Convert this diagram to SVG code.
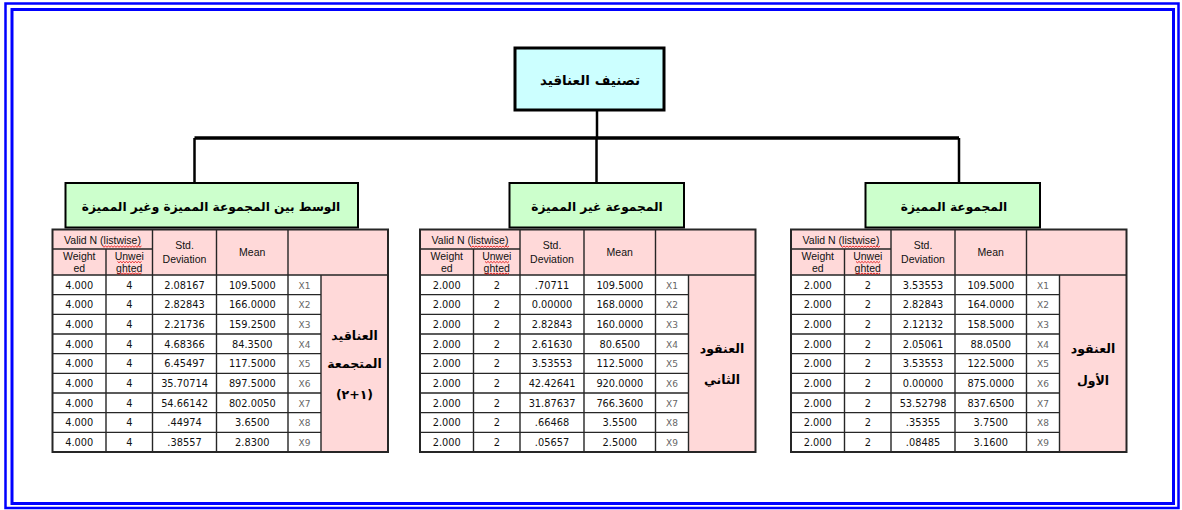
<svg xmlns="http://www.w3.org/2000/svg" xmlns:xlink="http://www.w3.org/1999/xlink" width="1182" height="510" viewBox="0 0 1182 510">
<style>
.bg{fill:#fff}
.fo{fill:none;stroke:#0000ff;stroke-width:2.5}
.fi{fill:none;stroke:#0000ff;stroke-width:3}
.root{fill:#ccffff;stroke:#000;stroke-width:3}
.grp{fill:#ccffcc;stroke:#000;stroke-width:2}
.con{fill:none;stroke:#000;stroke-width:2.5}
.hz{fill:none;stroke:#000;stroke-width:3.5}
.pk{fill:#ffd9d9}
.wh{fill:#fff}
.grid{fill:none;stroke:#262626;stroke-width:1.4}
.out{fill:none;stroke:#262626;stroke-width:2}
.t{font-family:"DejaVu Sans",Verdana,sans-serif;font-size:9.8px;fill:#111;text-anchor:middle}
.h{font-family:"Liberation Sans",Arial,sans-serif;font-size:10.5px}
.x{fill:#666;font-size:9px}
.ar{font-family:"DejaVu Sans",sans-serif;font-weight:bold;text-anchor:middle;fill:#000}
.sq{fill:none;stroke:#e00000;stroke-width:0.8}
</style>
<defs>
<path id="sq39" class="sq" d="M0,0 l1.5,1.2 1.5,-1.2 1.5,1.2 1.5,-1.2 1.5,1.2 1.5,-1.2 1.5,1.2 1.5,-1.2 1.5,1.2 1.5,-1.2 1.5,1.2 1.5,-1.2 1.5,1.2 1.5,-1.2 1.5,1.2 1.5,-1.2 1.5,1.2 1.5,-1.2 1.5,1.2 1.5,-1.2 1.5,1.2 1.5,-1.2 1.5,1.2 1.5,-1.2 1.5,1.2 1.5,-1.2"/>
<path id="sq24" class="sq" d="M0,0 l1.5,1.2 1.5,-1.2 1.5,1.2 1.5,-1.2 1.5,1.2 1.5,-1.2 1.5,1.2 1.5,-1.2 1.5,1.2 1.5,-1.2 1.5,1.2 1.5,-1.2 1.5,1.2 1.5,-1.2 1.5,1.2 1.5,-1.2"/>
<g id="tbl">
<rect class="pk" x="0" y="229.5" width="335.5" height="45.5"/>
<rect class="wh" x="0" y="275" width="268.5" height="177"/>
<rect class="pk" x="268.5" y="275" width="67" height="177"/>
<path class="grid" d="M0,249H100M0,275H335.5M0,294.67H268.5M0,314.33H268.5M0,334H268.5M0,353.67H268.5M0,373.33H268.5M0,393H268.5M0,412.67H268.5M0,432.33H268.5M53.5,249V452M100,229.5V452M164,229.5V452M235.5,229.5V452M268.5,275V452"/>
<rect class="out" x="0" y="229.5" width="335.5" height="222.5"/>
<text class="t h" x="50" y="243.5">Valid N (listwise)</text>
<text class="t h" x="26.75" y="260">Weight</text>
<text class="t h" x="26.75" y="272">ed</text>
<text class="t h" x="76.75" y="259.5">Unwei</text>
<text class="t h" x="76.75" y="271.5">ghted</text>
<text class="t h" x="132" y="249">Std.</text>
<text class="t h" x="132" y="263">Deviation</text>
<text class="t h" x="199.75" y="256">Mean</text>
<use xlink:href="#sq39" x="50" y="246"/>
<use xlink:href="#sq24" x="65" y="261.5"/>
<use xlink:href="#sq24" x="65" y="273"/>
<text class="t x" x="252" y="288.5">X1</text>
<text class="t x" x="252" y="308">X2</text>
<text class="t x" x="252" y="327.5">X3</text>
<text class="t x" x="252" y="347.5">X4</text>
<text class="t x" x="252" y="367">X5</text>
<text class="t x" x="252" y="386.5">X6</text>
<text class="t x" x="252" y="406.5">X7</text>
<text class="t x" x="252" y="426">X8</text>
<text class="t x" x="252" y="445.5">X9</text>
</g>
</defs>
<rect class="bg" x="0" y="0" width="1182" height="510"/>
<g id="frame">
<rect class="fo" x="5.5" y="3.5" width="1173" height="504.5"/>
<rect class="fi" x="12" y="9.5" width="1161.5" height="494"/>
</g>
<g id="connectors">
<path class="con" d="M597,110V138"/>
<path class="hz" d="M194.5,138H959"/>
<path class="con" d="M194.5,138V183M596.5,138V183M959,138V183"/>
</g>
<g id="root">
<rect class="root" x="515" y="48" width="149" height="62"/>
<text class="ar" x="590" y="84.5" font-size="13.5">تصنيف العناقيد</text>
</g>
<g id="group-mid-between">
<rect class="grp" x="65.5" y="183" width="292.5" height="44.5"/>
<text class="ar" x="211" y="211" font-size="12.2">الوسط بين المجموعة المميزة وغير المميزة</text>
</g>
<g id="group-nondistinct">
<rect class="grp" x="509.5" y="183" width="174.5" height="44.5"/>
<text class="ar" x="597" y="211" font-size="12.2">المجموعة غير المميزة</text>
</g>
<g id="group-distinct">
<rect class="grp" x="865.5" y="183" width="174.5" height="44.5"/>
<text class="ar" x="954" y="211" font-size="12.2">المجموعة المميزة</text>
</g>
<g id="table-combined" transform="translate(52.5,0)">
<use xlink:href="#tbl"/>
<g class="t">
<text x="26.75" y="288.5">4.000</text><text x="76.75" y="288.5">4</text><text x="132" y="288.5">2.08167</text><text x="199.75" y="288.5">109.5000</text>
<text x="26.75" y="308">4.000</text><text x="76.75" y="308">4</text><text x="132" y="308">2.82843</text><text x="199.75" y="308">166.0000</text>
<text x="26.75" y="327.5">4.000</text><text x="76.75" y="327.5">4</text><text x="132" y="327.5">2.21736</text><text x="199.75" y="327.5">159.2500</text>
<text x="26.75" y="347.5">4.000</text><text x="76.75" y="347.5">4</text><text x="132" y="347.5">4.68366</text><text x="199.75" y="347.5">84.3500</text>
<text x="26.75" y="367">4.000</text><text x="76.75" y="367">4</text><text x="132" y="367">6.45497</text><text x="199.75" y="367">117.5000</text>
<text x="26.75" y="386.5">4.000</text><text x="76.75" y="386.5">4</text><text x="132" y="386.5">35.70714</text><text x="199.75" y="386.5">897.5000</text>
<text x="26.75" y="406.5">4.000</text><text x="76.75" y="406.5">4</text><text x="132" y="406.5">54.66142</text><text x="199.75" y="406.5">802.0050</text>
<text x="26.75" y="426">4.000</text><text x="76.75" y="426">4</text><text x="132" y="426">.44974</text><text x="199.75" y="426">3.6500</text>
<text x="26.75" y="445.5">4.000</text><text x="76.75" y="445.5">4</text><text x="132" y="445.5">.38557</text><text x="199.75" y="445.5">2.8300</text>
</g>
<text class="ar" x="302" y="340" font-size="12.5">العناقيد</text>
<text class="ar" x="302" y="368" font-size="12.5">المتجمعة</text>
<text class="ar" x="302" y="399" font-size="12.5" style="direction:ltr;unicode-bidi:bidi-override">(٢+١)</text>
</g>
<g id="table-cluster2" transform="translate(420,0)">
<use xlink:href="#tbl"/>
<g class="t">
<text x="26.75" y="288.5">2.000</text><text x="76.75" y="288.5">2</text><text x="132" y="288.5">.70711</text><text x="199.75" y="288.5">109.5000</text>
<text x="26.75" y="308">2.000</text><text x="76.75" y="308">2</text><text x="132" y="308">0.00000</text><text x="199.75" y="308">168.0000</text>
<text x="26.75" y="327.5">2.000</text><text x="76.75" y="327.5">2</text><text x="132" y="327.5">2.82843</text><text x="199.75" y="327.5">160.0000</text>
<text x="26.75" y="347.5">2.000</text><text x="76.75" y="347.5">2</text><text x="132" y="347.5">2.61630</text><text x="199.75" y="347.5">80.6500</text>
<text x="26.75" y="367">2.000</text><text x="76.75" y="367">2</text><text x="132" y="367">3.53553</text><text x="199.75" y="367">112.5000</text>
<text x="26.75" y="386.5">2.000</text><text x="76.75" y="386.5">2</text><text x="132" y="386.5">42.42641</text><text x="199.75" y="386.5">920.0000</text>
<text x="26.75" y="406.5">2.000</text><text x="76.75" y="406.5">2</text><text x="132" y="406.5">31.87637</text><text x="199.75" y="406.5">766.3600</text>
<text x="26.75" y="426">2.000</text><text x="76.75" y="426">2</text><text x="132" y="426">.66468</text><text x="199.75" y="426">3.5500</text>
<text x="26.75" y="445.5">2.000</text><text x="76.75" y="445.5">2</text><text x="132" y="445.5">.05657</text><text x="199.75" y="445.5">2.5000</text>
</g>
<text class="ar" x="302" y="353" font-size="12.5">العنقود</text>
<text class="ar" x="302" y="384" font-size="12.5">الثاني</text>
</g>
<g id="table-cluster1" transform="translate(791,0)">
<use xlink:href="#tbl"/>
<g class="t">
<text x="26.75" y="288.5">2.000</text><text x="76.75" y="288.5">2</text><text x="132" y="288.5">3.53553</text><text x="199.75" y="288.5">109.5000</text>
<text x="26.75" y="308">2.000</text><text x="76.75" y="308">2</text><text x="132" y="308">2.82843</text><text x="199.75" y="308">164.0000</text>
<text x="26.75" y="327.5">2.000</text><text x="76.75" y="327.5">2</text><text x="132" y="327.5">2.12132</text><text x="199.75" y="327.5">158.5000</text>
<text x="26.75" y="347.5">2.000</text><text x="76.75" y="347.5">2</text><text x="132" y="347.5">2.05061</text><text x="199.75" y="347.5">88.0500</text>
<text x="26.75" y="367">2.000</text><text x="76.75" y="367">2</text><text x="132" y="367">3.53553</text><text x="199.75" y="367">122.5000</text>
<text x="26.75" y="386.5">2.000</text><text x="76.75" y="386.5">2</text><text x="132" y="386.5">0.00000</text><text x="199.75" y="386.5">875.0000</text>
<text x="26.75" y="406.5">2.000</text><text x="76.75" y="406.5">2</text><text x="132" y="406.5">53.52798</text><text x="199.75" y="406.5">837.6500</text>
<text x="26.75" y="426">2.000</text><text x="76.75" y="426">2</text><text x="132" y="426">.35355</text><text x="199.75" y="426">3.7500</text>
<text x="26.75" y="445.5">2.000</text><text x="76.75" y="445.5">2</text><text x="132" y="445.5">.08485</text><text x="199.75" y="445.5">3.1600</text>
</g>
<text class="ar" x="302" y="353" font-size="12.5">العنقود</text>
<text class="ar" x="302" y="385" font-size="12.5">الأول</text>
</g>
</svg>
